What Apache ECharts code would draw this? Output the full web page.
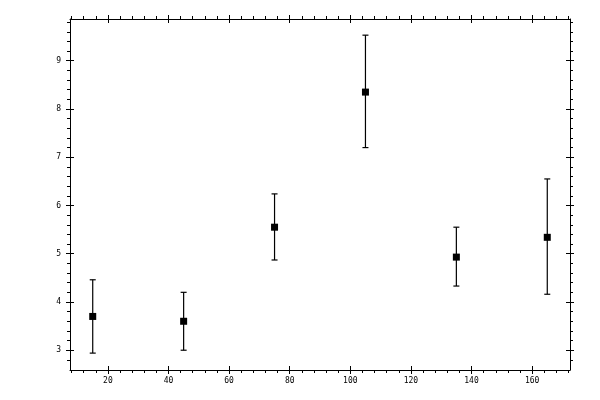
<!DOCTYPE html>
<html><head><meta charset="utf-8">
<script src="https://cdn.jsdelivr.net/npm/echarts@6/dist/echarts.min.js"></script>
<style>html,body{margin:0;padding:0;background:#fff}#c{width:600px;height:400px}</style>
</head><body><div id="c"></div>
<script>
const xValues = [15, 45, 75, 105, 135, 165];
const yValues = [3.70, 3.60, 5.55, 8.35, 4.93, 5.34];
const yLow    = [2.94, 3.00, 4.87, 7.20, 4.33, 4.16];
const yHigh   = [4.46, 4.20, 6.24, 9.53, 5.55, 6.55];

const xMajorTicks = [20, 40, 60, 80, 100, 120, 140, 160];
const yMajorTicks = [3, 4, 5, 6, 7, 8, 9];
const xMinorTicks = [];
for (let v = 8; v <= 172; v += 4) if (v % 20 !== 0) xMinorTicks.push(v);
const yMinorTicks = [];
for (let i = 14; i <= 49; i++) { const v = +(i * 0.2).toFixed(1); if (i % 5 !== 0) yMinorTicks.push(v); }

const X_MIN = 7.5, X_MAX = 172.5, Y_MIN = 2.59, Y_MAX = 9.865;
const black = '#000';

function axisSet(pos, min, max, majors, minors, isX) {
  const base = { type: 'value', min: min, max: max, position: pos, splitLine: { show: false } };
  const labelOn = (pos === 'bottom' || pos === 'left');
  return [
    Object.assign({}, base, {
      axisLine: { show: true, lineStyle: { color: black, width: 1 } },
      axisTick: { show: true, inside: false, length: 4, customValues: majors, lineStyle: { color: black, width: 1 } },
      axisLabel: { show: labelOn, customValues: majors, color: black, fontSize: 8,
        fontFamily: 'DejaVu Sans Mono', margin: isX ? 7 : 9 }
    }),
    Object.assign({}, base, {
      axisLine: { show: false },
      axisTick: { show: true, inside: true, length: 4, customValues: majors, lineStyle: { color: black, width: 1 } },
      axisLabel: { show: false }
    }),
    Object.assign({}, base, {
      axisLine: { show: false },
      axisTick: { show: true, inside: false, length: 3, customValues: minors, lineStyle: { color: black, width: 1 } },
      axisLabel: { show: false }
    })
  ];
}

const xAxes = axisSet('bottom', X_MIN, X_MAX, xMajorTicks, xMinorTicks, true)
  .concat(axisSet('top', X_MIN, X_MAX, xMajorTicks, xMinorTicks, true));
const yAxes = axisSet('left', Y_MIN, Y_MAX, yMajorTicks, yMinorTicks, false)
  .concat(axisSet('right', Y_MIN, Y_MAX, yMajorTicks, yMinorTicks, false));

const errData = xValues.map((x, i) => [x, yLow[i], yHigh[i]]);
const ptData = xValues.map((x, i) => [x, yValues[i]]);

const chart = echarts.init(document.getElementById('c'));
chart.setOption({
  animation: false,
  backgroundColor: '#fff',
  grid: { left: 70, right: 30, top: 19, bottom: 30, containLabel: false },
  xAxis: xAxes,
  yAxis: yAxes,
  series: [
    {
      type: 'custom', xAxisIndex: 0, yAxisIndex: 0,
      data: errData,
      renderItem: function (params, api) {
        const x = api.value(0);
        const lo = api.coord([x, api.value(1)]);
        const hi = api.coord([x, api.value(2)]);
        const hw = 3;
        const st = { stroke: black, lineWidth: 1.2 };
        return { type: 'group', children: [
          { type: 'line', shape: { x1: lo[0], y1: lo[1], x2: hi[0], y2: hi[1] }, style: st },
          { type: 'line', shape: { x1: lo[0] - hw, y1: lo[1], x2: lo[0] + hw, y2: lo[1] }, style: st },
          { type: 'line', shape: { x1: hi[0] - hw, y1: hi[1], x2: hi[0] + hw, y2: hi[1] }, style: st }
        ]};
      }
    },
    {
      type: 'scatter', xAxisIndex: 0, yAxisIndex: 0,
      symbol: 'rect', symbolSize: 7,
      itemStyle: { color: black, opacity: 1 },
      data: ptData, z: 5
    }
  ]
});
</script>
</body></html>
